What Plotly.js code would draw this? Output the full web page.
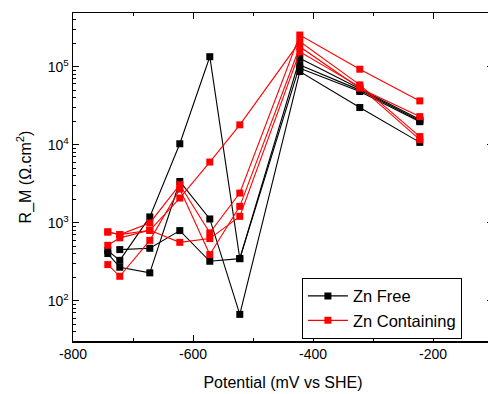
<!DOCTYPE html>
<html>
<head>
<meta charset="utf-8">
<script src="https://cdn.plot.ly/plotly-3.0.1.min.js"></script>
<style>
html, body { margin: 0; padding: 0; overflow: hidden; background: #fff; width: 488px; height: 394px; }
#chart { width: 496px; height: 394px; }
</style>
</head>
<body>
<div id="chart"></div>
<script>
// Potential (mV vs SHE)
const potentials = [-742, -722, -672, -622, -572, -522, -422, -322, -222];

// Zn Free specimens (black)
const znFree1 = [null, 453, 471, 793, 321, 347, 128000, 52000, 21000];
const znFree2 = [440, 330, 1187, 10270, 134000, 347, 105000, 50000, 20200];
const znFree3 = [403, 269, 228, 3380, 1118, 67, 86400, 29900, 10700];
const znFree4 = [null, null, null, null, null, null, 95500, 48000, 19700];

// Zn Containing specimens (red)
const znCont1 = [762, 705, 994, 3070, 741, 2400, 254000, 92600, 36400];
const znCont2 = [514, 640, 800, 2070, 5990, 17960, 209000, 58400, 12700];
const znCont3 = [291, 206, 595, 2700, 391, 1622, 180000, 53000, 22900];
const znCont4 = [762, 705, 800, 561, 627, 1208, 155000, 55000, 11600];

const seriesNames = ["Zn Free", "Zn Containing"];
const yTickVals = [100, 1000, 10000, 100000];
const yTickText = ["10<sup>2</sup>", "10<sup>3</sup>", "10<sup>4</sup>", "10<sup>5</sup>"];
const xTickVals = [-800, -600, -400, -200];
const xTickText = ["-800", "-600", "-400", "-200"];

const black = "#000000";
const red = "#ff0000";

function mk(y, color, name, show) {
  return {
    x: potentials, y: y, type: "scatter", mode: "lines+markers",
    name: name, legendgroup: name, showlegend: show,
    line: { color: color, width: 1.1 },
    marker: { symbol: "square", size: 7, color: color, line: { width: 0 } },
    connectgaps: false
  };
}

const data = [
  mk(znFree1, black, seriesNames[0], true),
  mk(znFree2, black, seriesNames[0], false),
  mk(znFree3, black, seriesNames[0], false),
  mk(znFree4, black, seriesNames[0], false),
  mk(znCont1, red, seriesNames[1], true),
  mk(znCont2, red, seriesNames[1], false),
  mk(znCont3, red, seriesNames[1], false),
  mk(znCont4, red, seriesNames[1], false)
];

const font = "Liberation Sans, Arial, sans-serif";

const layout = {
  width: 496, height: 394,
  margin: { l: 73, r: 3, t: 13, b: 53 },
  paper_bgcolor: "#fff", plot_bgcolor: "#fff",
  font: { family: font, color: "#000", size: 14 },
  showlegend: true,
  legend: {
    x: 0.545, y: 0.193, xanchor: "left", yanchor: "top",
    bordercolor: "#000", borderwidth: 1, bgcolor: "#fff",
    font: { family: font, size: 16.5, color: "#000" },
    itemwidth: 40, tracegroupgap: 0
  },
  xaxis: {
    range: [-800, -100],
    tickmode: "array", tickvals: xTickVals, ticktext: xTickText,
    ticks: "inside", ticklen: 6, tickwidth: 1, tickcolor: "#000",
    minor: { tickmode: "linear", tick0: -800, dtick: 100, ticks: "inside", ticklen: 3, tickwidth: 1, tickcolor: "#000" },
    showline: true, linecolor: "#000", linewidth: 1.5, mirror: "ticks",
    showgrid: false, zeroline: false,
    tickfont: { family: font, size: 14 },
    title: { text: "Potential (mV vs SHE)", font: { family: font, size: 16 }, standoff: 15 }
  },
  yaxis: {
    type: "log",
    range: [1.485, 5.687],
    tickmode: "array", tickvals: yTickVals, ticktext: yTickText,
    ticks: "inside", ticklen: 6, tickwidth: 1, tickcolor: "#000",
    minor: { dtick: "D1", ticks: "inside", ticklen: 3, tickwidth: 1, tickcolor: "#000" },
    showline: true, linecolor: "#000", linewidth: 1.5, mirror: "ticks",
    showgrid: false, zeroline: false,
    tickfont: { family: font, size: 14 },
    title: { text: "R_M (Ω.cm<sup>2</sup>)", font: { family: font, size: 16 }, standoff: 12 }
  }
};

Plotly.newPlot("chart", data, layout, { staticPlot: true, displayModeBar: false });
</script>
</body>
</html>
